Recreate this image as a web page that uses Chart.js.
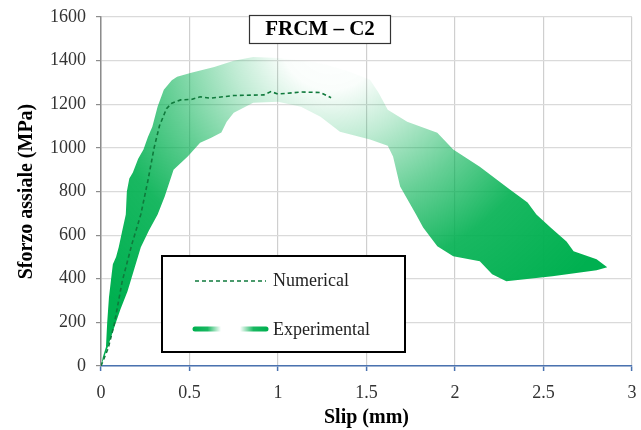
<!DOCTYPE html>
<html>
<head>
<meta charset="utf-8">
<script src="https://cdn.jsdelivr.net/npm/chart.js@4/dist/chart.umd.min.js"></script>
<style>
  html, body { margin: 0; padding: 0; background: #fff; }
  #wrap { width: 641px; height: 430px; }
</style>
</head>
<body>
<div id="wrap"><canvas id="c" width="641" height="430"></canvas></div>
<script>
// FRCM - C2 : stress vs slip, numerical curve over experimental band

const xTicks = [0, 0.5, 1, 1.5, 2, 2.5, 3];
const yTicks = [0, 200, 400, 600, 800, 1000, 1200, 1400, 1600];

// numerical curve
const numSlip   = [0, 0.04, 0.075, 0.12, 0.175, 0.225, 0.265, 0.30, 0.33, 0.37, 0.40, 0.45, 0.51, 0.56, 0.62, 0.75, 0.92, 0.96, 1.0, 1.05, 1.13, 1.24, 1.30];
const numStress = [0, 80, 192, 389, 560, 695, 850, 1000, 1100, 1180, 1205, 1220, 1222, 1234, 1228, 1240, 1243, 1258, 1247, 1250, 1256, 1254, 1230];

// experimental envelope - upper edge
const expUpperSlip   = [0, 0.01, 0.028, 0.035, 0.045, 0.06, 0.067, 0.085, 0.10, 0.12, 0.14, 0.146, 0.16, 0.18, 0.21, 0.24, 0.265, 0.29, 0.32, 0.355, 0.40, 0.43, 0.51, 0.64, 0.75, 0.86, 1.0, 1.2, 1.28, 1.4, 1.52, 1.57, 1.62, 1.73, 1.9, 1.99, 2.14, 2.31, 2.41, 2.46, 2.54, 2.63, 2.67, 2.80, 2.86];
const expUpperStress = [0, 40, 87, 200, 315, 420, 466, 500, 544, 620, 695, 800, 860, 887, 950, 992, 1050, 1097, 1190, 1266, 1310, 1326, 1344, 1371, 1400, 1417, 1412, 1394, 1380, 1350, 1312, 1250, 1175, 1120, 1069, 992, 914, 809, 750, 695, 635, 571, 526, 489, 453];

// experimental envelope - lower edge
const expLowerSlip   = [0, 0.04, 0.075, 0.11, 0.15, 0.19, 0.225, 0.27, 0.32, 0.36, 0.41, 0.49, 0.56, 0.62, 0.68, 0.71, 0.75, 0.86, 1.0, 1.13, 1.24, 1.35, 1.52, 1.62, 1.65, 1.69, 1.78, 1.82, 1.9, 1.99, 2.14, 2.21, 2.29, 2.55, 2.80, 2.86];
const expLowerStress = [0, 90, 178, 260, 343, 450, 544, 620, 695, 777, 900, 960, 1024, 1045, 1070, 1120, 1161, 1207, 1211, 1189, 1143, 1074, 1038, 1010, 960, 823, 695, 635, 549, 503, 480, 421, 389, 411, 439, 453];

const GREEN = 'rgba(0,176,80,';
const SERIF = "'Liberation Serif', 'Times New Roman', serif";

function pts(xs, ys) {
  return xs.map((x, i) => ({ x: x, y: ys[i] }));
}

function bandFill(context) {
  const chart = context.chart;
  const area = chart.chartArea;
  if (!area) return GREEN + '0.5)';
  const sx = chart.scales.x, sy = chart.scales.y;
  const cx = sx.getPixelForValue(1.3);
  const cy = sy.getPixelForValue(1500);
  const g = chart.ctx.createRadialGradient(cx, cy, 0, cx, cy, 340);
  g.addColorStop(0, GREEN + '0)');
  g.addColorStop(0.15, GREEN + '0.02)');
  g.addColorStop(0.3, GREEN + '0.25)');
  g.addColorStop(0.5, GREEN + '0.6)');
  g.addColorStop(0.7, GREEN + '0.9)');
  g.addColorStop(1, GREEN + '1)');
  return g;
}

// title box and legend box drawn inside the plot
const overlay = {
  id: 'overlay',
  afterDraw(chart) {
    const c = chart.ctx;
    c.save();
    // title box
    c.fillStyle = '#fff';
    c.fillRect(249.5, 15.5, 141, 28);
    c.strokeStyle = '#333';
    c.lineWidth = 1.2;
    c.strokeRect(249.5, 15.5, 141, 28);
    c.fillStyle = '#000';
    c.font = 'bold 21px ' + SERIF;
    c.textAlign = 'center';
    c.textBaseline = 'middle';
    c.fillText('FRCM \u2013 C2', 320, 30);

    // legend box
    c.fillStyle = '#fff';
    c.fillRect(162, 256, 243, 96);
    c.strokeStyle = '#000';
    c.lineWidth = 2;
    c.strokeRect(162, 256, 243, 96);

    c.strokeStyle = '#0f7a3c';
    c.lineWidth = 1.6;
    c.setLineDash([4, 3]);
    c.beginPath();
    c.moveTo(195, 281);
    c.lineTo(266, 281);
    c.stroke();
    c.setLineDash([]);

    c.lineCap = 'round';
    c.lineWidth = 5;
    let g = c.createLinearGradient(194, 0, 221, 0);
    g.addColorStop(0, GREEN + '1)');
    g.addColorStop(0.5, GREEN + '0.9)');
    g.addColorStop(1, GREEN + '0)');
    c.strokeStyle = g;
    c.beginPath();
    c.moveTo(195, 329);
    c.lineTo(221, 329);
    c.stroke();
    g = c.createLinearGradient(240, 0, 267, 0);
    g.addColorStop(0, GREEN + '0)');
    g.addColorStop(0.5, GREEN + '0.9)');
    g.addColorStop(1, GREEN + '1)');
    c.strokeStyle = g;
    c.beginPath();
    c.moveTo(240, 329);
    c.lineTo(266, 329);
    c.stroke();

    c.fillStyle = '#222';
    c.font = '18px ' + SERIF;
    c.textAlign = 'left';
    c.textBaseline = 'middle';
    c.fillText('Numerical', 273, 281);
    c.fillText('Experimental', 273, 330);
    c.restore();
  }
};

const ctx = document.getElementById('c').getContext('2d');

const chart = new Chart(ctx, {
  type: 'line',
  data: {
    datasets: [
      {
        label: 'Numerical',
        data: pts(numSlip, numStress),
        borderColor: '#0f7a3c',
        borderWidth: 1.6,
        borderDash: [4, 3],
        pointRadius: 0,
        fill: false,
        tension: 0,
        order: 0
      },
      {
        label: 'Experimental',
        data: pts(expUpperSlip, expUpperStress),
        borderWidth: 0,
        borderColor: 'rgba(0,0,0,0)',
        backgroundColor: bandFill,
        pointRadius: 0,
        fill: 2,
        tension: 0,
        order: 1
      },
      {
        label: 'Experimental low',
        data: pts(expLowerSlip, expLowerStress),
        borderWidth: 0,
        borderColor: 'rgba(0,0,0,0)',
        pointRadius: 0,
        fill: false,
        tension: 0,
        order: 2
      }
    ]
  },
  options: {
    responsive: false,
    animation: false,
    events: [],
    layout: { padding: { top: 17, right: 9, left: 0, bottom: 0 } },
    plugins: {
      legend: { display: false },
      tooltip: { enabled: false },
      title: { display: false }
    },
    scales: {
      x: {
        type: 'linear',
        min: 0,
        max: 3,
        afterFit: (s) => { s.height = 64; s.paddingLeft = 0; s.paddingRight = 0; },
        afterBuildTicks: (s) => { s.ticks = xTicks.map(v => ({ value: v })); },
        border: { color: '#4a72b0', width: 1.5 },
        grid: { color: '#cfcfcf', lineWidth: 1.2, tickLength: 5, tickColor: '#4a72b0', tickWidth: 1.5 },
        ticks: {
          padding: 11,
          color: '#333',
          font: { family: SERIF, size: 18 },
          maxRotation: 0,
          callback: (v) => String(v)
        },
        title: {
          display: true,
          text: 'Slip (mm)',
          color: '#000',
          font: { family: SERIF, size: 20, weight: 'bold' },
          padding: { top: 0, bottom: 0 }
        }
      },
      y: {
        min: 0,
        max: 1600,
        afterFit: (s) => { s.width = 101; s.paddingTop = 0; s.paddingBottom = 0; },
        afterBuildTicks: (s) => { s.ticks = yTicks.map(v => ({ value: v })); },
        border: { color: '#8c8c8c', width: 1.5 },
        grid: { color: '#dadada', lineWidth: 1.2, tickLength: 5, tickColor: '#8c8c8c' },
        ticks: {
          padding: 10,
          color: '#333',
          font: { family: SERIF, size: 18 },
          callback: (v) => String(v)
        },
        title: {
          display: true,
          text: 'Sforzo assiale (MPa)',
          color: '#000',
          font: { family: SERIF, size: 20, weight: 'bold' },
          padding: { top: 15, bottom: 0 }
        }
      }
    }
  },
  plugins: [overlay]
});
</script>
</body>
</html>
